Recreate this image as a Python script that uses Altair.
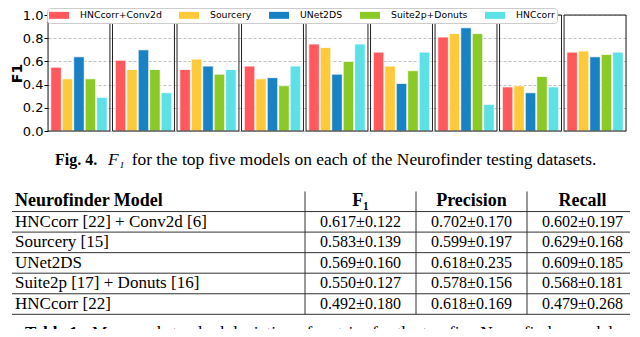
import altair as alt
import pandas as pd

# ---------------- data ----------------
datasets = ["00.00", "00.01", "01.00", "01.01", "02.00", "02.01", "03.00", "04.00", "04.01"]
models = ["HNCcorr+Conv2d", "Sourcery", "UNet2DS", "Suite2p+Donuts", "HNCcorr"]
colors = ["#FF595E", "#FFCA3A", "#1982C4", "#8AC926", "#5CE1E6"]

f1_hnccorr_conv2d = [0.55, 0.61, 0.53, 0.56, 0.75, 0.68, 0.81, 0.38, 0.68]
f1_sourcery = [0.45, 0.53, 0.62, 0.45, 0.72, 0.56, 0.84, 0.39, 0.69]
f1_unet2ds = [0.64, 0.70, 0.56, 0.46, 0.49, 0.41, 0.89, 0.33, 0.64]
f1_suite2p_donuts = [0.45, 0.53, 0.49, 0.39, 0.60, 0.52, 0.84, 0.47, 0.66]
f1_hnccorr = [0.29, 0.33, 0.53, 0.56, 0.75, 0.68, 0.23, 0.38, 0.68]
y_ticks = [0.0, 0.2, 0.4, 0.6, 0.8, 1.0]

table_header = ["Neurofinder Model", "F₁", "Precision", "Recall"]
table_models = ["HNCcorr [22] + Conv2d [6]", "Sourcery [15]", "UNet2DS",
                "Suite2p [17] + Donuts [16]", "HNCcorr [22]"]
table_f1 = ["0.617±0.122", "0.583±0.139", "0.569±0.160", "0.550±0.127", "0.492±0.180"]
table_precision = ["0.702±0.170", "0.599±0.197", "0.618±0.235", "0.578±0.156", "0.618±0.169"]
table_recall = ["0.602±0.197", "0.629±0.168", "0.609±0.185", "0.568±0.181", "0.479±0.268"]

fig_label = "Fig. 4."
fig_sym = "F₁"
fig_text = "for the top five models on each of the Neurofinder testing datasets."
tab_label = "Table 1."
tab_text = "Mean and standard deviation of metrics for the top five Neurofinder models"

# ---------------- tables for the library ----------------
series = [f1_hnccorr_conv2d, f1_sourcery, f1_unet2ds, f1_suite2p_donuts, f1_hnccorr]
bar_df = pd.DataFrame(
    [{"dataset": d, "model": m, "f1": v}
     for m, vals in zip(models, series) for d, v in zip(datasets, vals)]
)
ds_df = pd.DataFrame({"dataset": datasets})

SANS = "DejaVu Sans"
SERIF = "Liberation Serif"

xscale = alt.Scale(domain=datasets, paddingInner=0.04, paddingOuter=0)
yscale = alt.Scale(domain=[0, 1], nice=False)

bars = alt.Chart(bar_df).mark_bar(stroke="white", strokeWidth=0.8).encode(
    x=alt.X("dataset:N", sort=datasets, scale=xscale,
            axis=alt.Axis(title=None, orient="bottom", domain=False, ticks=False,
                          labelAngle=0, labelFontSize=15, labelFont=SANS,
                          labelColor="#000", labelPadding=4)),
    xOffset=alt.XOffset("model:N", sort=models,
                        scale=alt.Scale(domain=models, paddingInner=0.08, paddingOuter=0.24)),
    y=alt.Y("f1:Q", scale=yscale,
            axis=alt.Axis(title="F1", values=y_ticks, format=".1f",
                          domain=False, tickSize=4, tickColor="#000",
                          labelFontSize=13, labelFont=SANS,
                          labelColor="#000", labelPadding=1, labelOverlap=False,
                          labelFlush=False, titleFont=SANS,
                          titleFontSize=14, titleFontWeight="bold", titleColor="#000",
                          titlePadding=-2, grid=True, gridDash=[3, 2],
                          gridColor="#b0b0b0", gridWidth=0.8)),
    color=alt.Color("model:N", sort=models,
                    scale=alt.Scale(domain=models, range=colors),
                    legend=alt.Legend(orient="none", legendX=-1, legendY=-7,
                                      direction="horizontal", columns=5, title=None,
                                      symbolType="M-2,-0.7L2,-0.7L2,0.7L-2,0.7Z",
                                      symbolSize=100, symbolOffset=5,
                                      symbolStrokeWidth=0,
                                      symbolOpacity=1, labelFontSize=9.3,
                                      labelFont=SANS, labelColor="#000",
                                      labelOffset=16, columnPadding=17, padding=2,
                                      fillColor="white", strokeColor="#cccccc",
                                      cornerRadius=3)),
)

# panel borders: rect with only an x band spans the full plot height
frames = alt.Chart(ds_df).mark_rect(fillOpacity=0, stroke="#222", strokeWidth=1).encode(
    x=alt.X("dataset:N", sort=datasets, scale=xscale, axis=None),
)

top = alt.layer(bars, frames)

# ---------------- lower part: caption + table (drawn below the plot) ----------------
row_keys = ["header"] + [f"r{i}" for i in range(len(table_models))]
num_cols = table_header[1:]
yrow = alt.Scale(domain=row_keys, range=[176, 299.3], paddingInner=0, paddingOuter=0)
xcol = alt.Scale(domain=num_cols, range=[257, 590], paddingInner=0, paddingOuter=0)

head_model_df = pd.DataFrame({"row": ["header"], "text": [table_header[0]]})
head_cols_df = pd.DataFrame({"row": ["header"] * 3, "col": num_cols, "text": num_cols})
models_df = pd.DataFrame({"row": row_keys[1:], "text": table_models})
vals_df = pd.DataFrame(
    [{"row": r, "col": c, "text": t}
     for c, colvals in zip(num_cols, [table_f1, table_precision, table_recall])
     for r, t in zip(row_keys[1:], colvals)]
)
rows_df = pd.DataFrame({"row": row_keys})
cols_df = pd.DataFrame({"col": num_cols})

head_model = alt.Chart(head_model_df).mark_text(
    align="left", baseline="middle", font=SERIF, fontSize=18, fontWeight="bold", color="#000"
).encode(x=alt.value(-33), y=alt.Y("row:N", scale=yrow, axis=None), text="text:N")

head_cols = alt.Chart(head_cols_df).mark_text(
    align="center", baseline="middle", font=SERIF, fontSize=18, fontWeight="bold", color="#000"
).encode(x=alt.X("col:N", scale=xcol, axis=None),
         y=alt.Y("row:N", scale=yrow, axis=None), text="text:N")

model_names = alt.Chart(models_df).mark_text(
    align="left", baseline="middle", font=SERIF, fontSize=17, color="#000"
).encode(x=alt.value(-33), y=alt.Y("row:N", scale=yrow, axis=None), text="text:N")

values = alt.Chart(vals_df).mark_text(
    align="center", baseline="middle", font=SERIF, fontSize=16, color="#000"
).encode(x=alt.X("col:N", scale=xcol, axis=None),
         y=alt.Y("row:N", scale=yrow, axis=None), text="text:N")

hlines = alt.Chart(rows_df).mark_rule(color="#333", strokeWidth=1).encode(
    y=alt.Y("row:N", scale=yrow, axis=None, bandPosition=1),
    x=alt.value(-36), x2=alt.value(582),
)

vlines = alt.Chart(cols_df).mark_rule(color="#333", strokeWidth=1).encode(
    x=alt.X("col:N", scale=xcol, axis=None, bandPosition=0),
    y=alt.value(176.5), y2=alt.value(299.3),
)

cap1 = alt.Chart(pd.DataFrame({"t": [fig_label]})).mark_text(
    align="left", baseline="middle", font=SERIF, fontSize=16, fontWeight="bold", color="#000"
).encode(x=alt.value(7), y=alt.value(145), text="t:N")
cap2 = alt.Chart(pd.DataFrame({"t": [fig_sym]})).mark_text(
    align="left", baseline="middle", font=SERIF, fontSize=17.4, fontStyle="italic", color="#000"
).encode(x=alt.value(60), y=alt.value(145), text="t:N")
cap3 = alt.Chart(pd.DataFrame({"t": [fig_text]})).mark_text(
    align="left", baseline="middle", font=SERIF, fontSize=17.4, color="#000"
).encode(x=alt.value(83.7), y=alt.value(145), text="t:N")

tcap1 = alt.Chart(pd.DataFrame({"t": [tab_label]})).mark_text(
    align="left", baseline="alphabetic", font=SERIF, fontSize=17, fontWeight="bold", color="#000"
).encode(x=alt.value(-23), y=alt.value(323), text="t:N")
tcap2 = alt.Chart(pd.DataFrame({"t": [tab_text]})).mark_text(
    align="left", baseline="alphabetic", font=SERIF, fontSize=17.4, color="#000"
).encode(x=alt.value(44), y=alt.value(323), text="t:N")

chart = alt.layer(
    top, hlines, vlines, head_model, head_cols, model_names, values,
    cap1, cap2, cap3, tcap1, tcap2
).resolve_scale(x="independent", y="independent").properties(
    width=578, height=116,
    autosize=alt.AutoSizeParams(type="none"),
    padding={"left": 40, "top": 7, "right": 6, "bottom": 198},
).configure_view(strokeWidth=0).configure(background="white")

chart.save("out.html", embed_options={"renderer": "svg", "actions": False})
